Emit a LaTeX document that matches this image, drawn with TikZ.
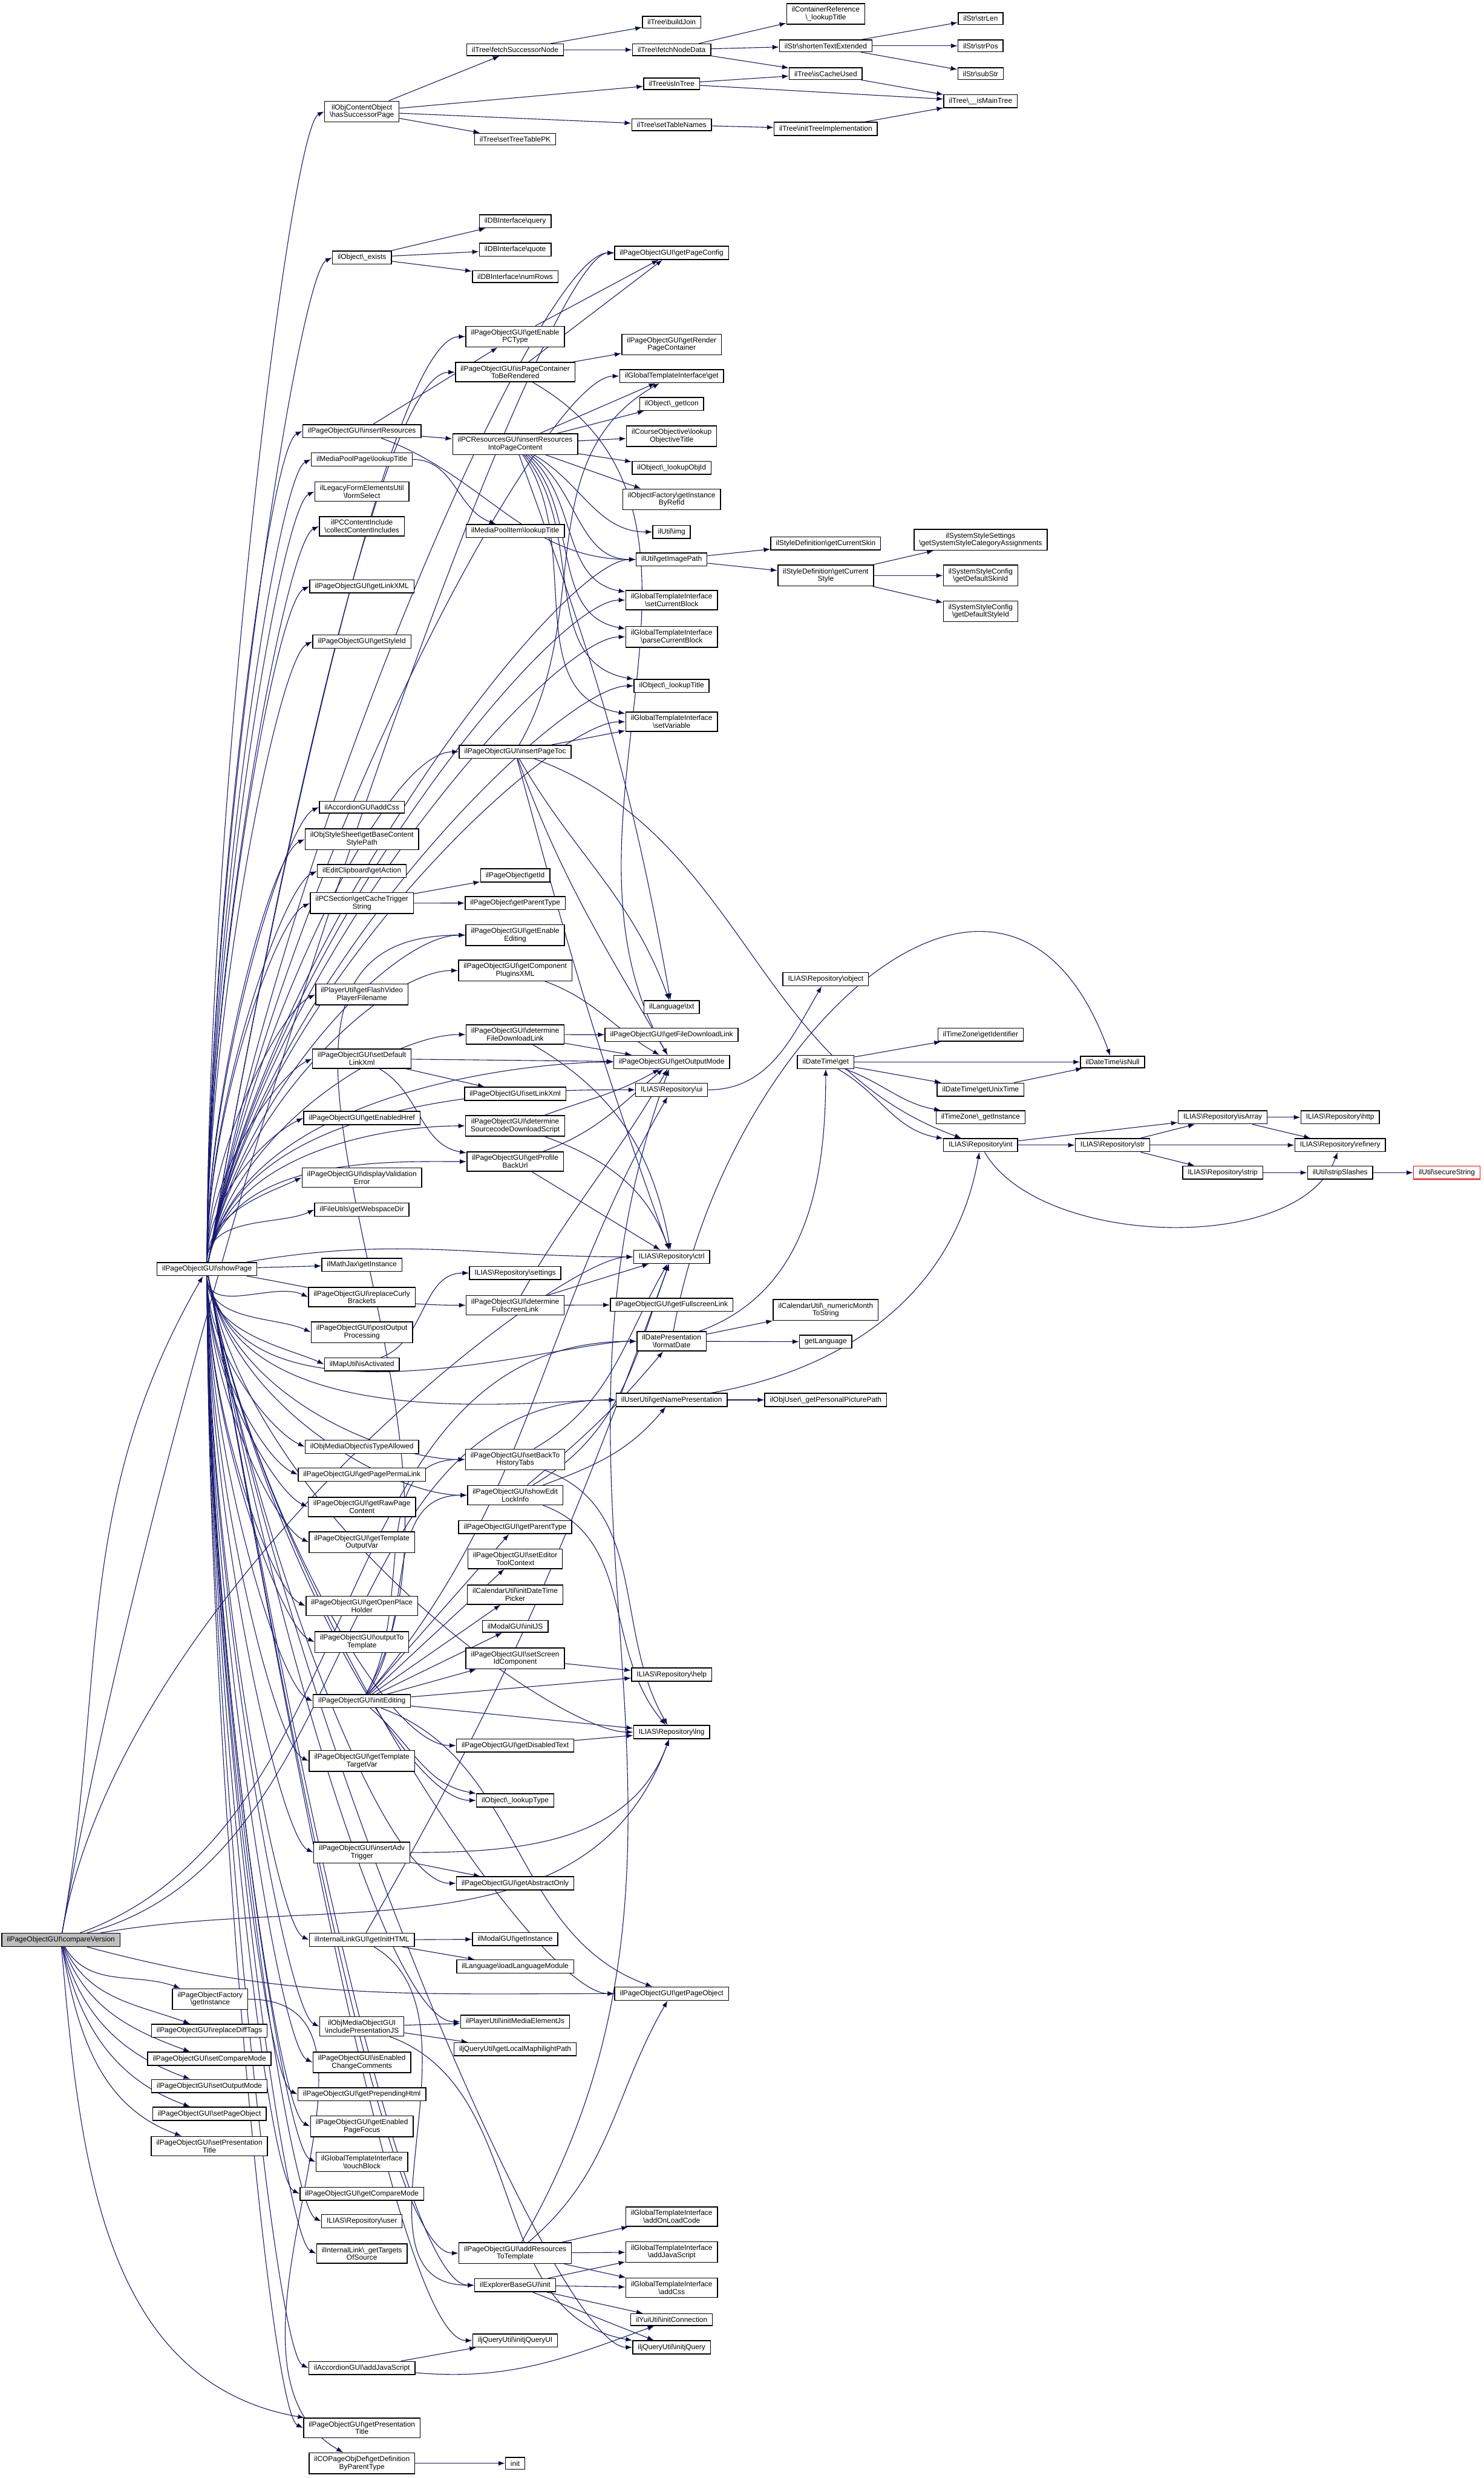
\documentclass[tikz,border=0pt]{standalone}
\usepackage{fontspec}
\setmainfont{Liberation Sans}
\usepackage{tikz}
\usetikzlibrary{arrows.meta}
\definecolor{callblue}{HTML}{191970}
\definecolor{curgray}{HTML}{BFBFBF}
\tikzstyle{every picture}=[->,>={Latex[length=1.5pt,width=1.1pt]}]
\pgfdeclarelayer{back}
\pgfsetlayers{back,main}
\newcommand{\bsl}{\textbackslash}

\begin{document}
\begin{tikzpicture}[x=0.0125cm,y=-0.0125cm,
  calls/.style={draw=callblue, line width=0.15pt},
  fu/.style={out=90,in=205,in distance=0.3cm},
  fd/.style={out=-90,in=155,in distance=0.3cm},
  lu/.style={out=80,in=180,in distance=0.6cm},
  ld/.style={out=-80,in=180,in distance=0.6cm}]
\useasboundingbox (0,0) rectangle (939,1568);
{
\begin{scope}[every node/.style={rectangle,draw,fill=white,line width=0.2pt,align=center,
    inner xsep=1.15pt,inner ysep=0.72pt,font=\fontsize{1.625}{1.725}\selectfont}]

    % caller and its direct callees
    \node[fill=curgray](cv) at (38.5,1227.5) {ilPageObjectGUI\bsl compareVersion};
    \node(sp) at (131,803) {ilPageObjectGUI\bsl showPage};
    \node(pof) at (133,1265) {ilPageObjectFactory\\\bsl getInstance};
    \node(rdt) at (132.5,1285) {ilPageObjectGUI\bsl replaceDiffTags};
    \node(scm) at (132.5,1302.7) {ilPageObjectGUI\bsl setCompareMode};
    \node(som) at (132.5,1320) {ilPageObjectGUI\bsl setOutputMode};
    \node(spo) at (132.5,1337.5) {ilPageObjectGUI\bsl setPageObject};
    \node(spt) at (132.5,1358) {ilPageObjectGUI\bsl setPresentation\\Title};

    % third column
    \node(hsp) at (229,70.6) {ilObjContentObject\\\bsl hasSuccessorPage};
    \node(oex) at (229,163) {ilObject\bsl\_exists};
    \node(ires) at (229,272.8) {ilPageObjectGUI\bsl insertResources};
    \node(mpp) at (229,290.7) {ilMediaPoolPage\bsl lookupTitle};
    \node(fsel) at (229,311) {ilLegacyFormElementsUtil\\\bsl formSelect};
    \node(cci) at (229,333) {ilPCContentInclude\\\bsl collectContentIncludes};
    \node(glx) at (229,371) {ilPageObjectGUI\bsl getLinkXML};
    \node(gsi) at (229,406) {ilPageObjectGUI\bsl getStyleId};
    \node(acss) at (229,510.7) {ilAccordionGUI\bsl addCss};
    \node(bcsp) at (229,531) {ilObjStyleSheet\bsl getBaseContent\\StylePath};
    \node(gact) at (229,551.2) {ilEditClipboard\bsl getAction};
    \node(cts) at (229,571.5) {ilPCSection\bsl getCacheTrigger\\String};
    \node(fvp) at (229,629.3) {ilPlayerUtil\bsl getFlashVideo\\PlayerFilename};
    \node(sdl) at (229,669.9) {ilPageObjectGUI\bsl setDefault\\LinkXml};
    \node(geh) at (229,707.4) {ilPageObjectGUI\bsl getEnabledHref};
    \node(dve) at (229,745.1) {ilPageObjectGUI\bsl displayValidation\\Error};
    \node(gwd) at (229,765.4) {ilFileUtils\bsl getWebspaceDir};
    \node(mjx) at (229,800.3) {ilMathJax\bsl getInstance};
    \node(rcb) at (229,820.8) {ilPageObjectGUI\bsl replaceCurly\\Brackets};
    \node(pop) at (229,843) {ilPageObjectGUI\bsl postOutput\\Processing};
    \node(mia) at (229,863.3) {ilMapUtil\bsl isActivated};
    \node(ita) at (229,915.5) {ilObjMediaObject\bsl isTypeAllowed};
    \node(gppl) at (229,933.1) {ilPageObjectGUI\bsl getPagePermaLink};
    \node(grpc) at (229,953.5) {ilPageObjectGUI\bsl getRawPage\\Content};
    \node(gtov) at (229,975.9) {ilPageObjectGUI\bsl getTemplate\\OutputVar};
    \node(goph) at (229,1016.2) {ilPageObjectGUI\bsl getOpenPlace\\Holder};
    \node(otot) at (229,1039) {ilPageObjectGUI\bsl outputTo\\Template};
    \node(ied) at (229,1076.4) {ilPageObjectGUI\bsl initEditing};
    \node(gttv) at (229,1114.3) {ilPageObjectGUI\bsl getTemplate\\TargetVar};
    \node(iat) at (229,1172.2) {ilPageObjectGUI\bsl insertAdv\\Trigger};
    \node(gih) at (229,1227.5) {ilInternalLinkGUI\bsl getInitHTML};
    \node(ipjs) at (229,1282.3) {ilObjMediaObjectGUI\\\bsl includePresentationJS};
    \node(iecc) at (229,1305) {ilPageObjectGUI\bsl isEnabled\\ChangeComments};
    \node(gph) at (229,1325.2) {ilPageObjectGUI\bsl getPrependingHtml};
    \node(gepf) at (229,1345.5) {ilPageObjectGUI\bsl getEnabled\\PageFocus};
    \node(ttb) at (229,1368) {ilGlobalTemplateInterface\\\bsl touchBlock};
    \node(gcm) at (229,1388.1) {ilPageObjectGUI\bsl getCompareMode};
    \node(rus) at (229,1405.5) {ILIAS\bsl Repository\bsl user};
    \node(gtos) at (229,1426) {ilInternalLink\bsl\_getTargets\\OfSource};
    \node(ajs) at (229,1498.4) {ilAccordionGUI\bsl addJavaScript};
    \node(gpt) at (229,1536.3) {ilPageObjectGUI\bsl getPresentation\\Title};
    \node(gdpt) at (229,1558.7) {ilCOPageObjDef\bsl getDefinition\\ByParentType};

    % fourth column
    \node(fsn) at (326,31.5) {ilTree\bsl fetchSuccessorNode};
    \node(sttp) at (326,88) {ilTree\bsl setTreeTablePK};
    \node(dbq) at (326,140) {ilDBInterface\bsl query};
    \node(dbqt) at (326,158) {ilDBInterface\bsl quote};
    \node(dbnr) at (326,175) {ilDBInterface\bsl numRows};
    \node(gepc) at (326,213) {ilPageObjectGUI\bsl getEnable\\PCType};
    \node(ipc) at (326,235.5) {ilPageObjectGUI\bsl isPageContainer\\ToBeRendered};
    \node(irpc) at (326,281) {ilPCResourcesGUI\bsl insertResources\\IntoPageContent};
    \node(mpi) at (326,336) {ilMediaPoolItem\bsl lookupTitle};
    \node(iptoc) at (326,475.7) {ilPageObjectGUI\bsl insertPageToc};
    \node(pgid) at (326,553.9) {ilPageObject\bsl getId};
    \node(ppt) at (326,571.4) {ilPageObject\bsl getParentType};
    \node(gee) at (326,591.7) {ilPageObjectGUI\bsl getEnable\\Editing};
    \node(gcpx) at (326,614.1) {ilPageObjectGUI\bsl getComponent\\PluginsXML};
    \node(dfdl) at (326,654.6) {ilPageObjectGUI\bsl determine\\FileDownloadLink};
    \node(slx) at (326,692.1) {ilPageObjectGUI\bsl setLinkXml};
    \node(dsds) at (326,712.4) {ilPageObjectGUI\bsl determine\\SourcecodeDownloadScript};
    \node(gpbu) at (326,735) {ilPageObjectGUI\bsl getProfile\\BackUrl};
    \node(rset) at (326,805.5) {ILIAS\bsl Repository\bsl settings};
    \node(dfsl) at (326,825.9) {ilPageObjectGUI\bsl determine\\FullscreenLink};
    \node(sbth) at (326,923.5) {ilPageObjectGUI\bsl setBackTo\\HistoryTabs};
    \node(seli) at (326,946.1) {ilPageObjectGUI\bsl showEdit\\LockInfo};
    \node(gpty) at (326,966.3) {ilPageObjectGUI\bsl getParentType};
    \node(setc) at (326,986.4) {ilPageObjectGUI\bsl setEditor\\ToolContext};
    \node(idtp) at (326,1009) {ilCalendarUtil\bsl initDateTime\\Picker};
    \node(mijs) at (326,1029.1) {ilModalGUI\bsl initJS};
    \node(ssic) at (326,1049.4) {ilPageObjectGUI\bsl setScreen\\IdComponent};
    \node(gdt) at (326,1104.5) {ilPageObjectGUI\bsl getDisabledText};
    \node(olt) at (326,1139.2) {ilObject\bsl\_lookupType};
    \node(gao) at (326,1191.7) {ilPageObjectGUI\bsl getAbstractOnly};
    \node(mgi) at (326,1227) {ilModalGUI\bsl getInstance};
    \node(llm) at (326,1244.3) {ilLanguage\bsl loadLanguageModule};
    \node(imej) at (326,1279.3) {ilPlayerUtil\bsl initMediaElementJs};
    \node(glmp) at (326,1296.7) {iljQueryUtil\bsl getLocalMaphilightPath};
    \node(artt) at (326,1425.7) {ilPageObjectGUI\bsl addResources\\ToTemplate};
    \node(ebi) at (326,1446) {ilExplorerBaseGUI\bsl init};
    \node(ijqui) at (326,1481) {iljQueryUtil\bsl initjQueryUI};
    \node(cinit) at (326,1558.7) {init};

    % fifth column
    \node(bj) at (425,14) {ilTree\bsl buildJoin};
    \node(fnd) at (425,31.5) {ilTree\bsl fetchNodeData};
    \node(iit) at (425,53) {ilTree\bsl isInTree};
    \node(stn) at (425,79) {ilTree\bsl setTableNames};
    \node(gpc) at (425,160) {ilPageObjectGUI\bsl getPageConfig};
    \node(grpcn) at (425,218) {ilPageObjectGUI\bsl getRender\\PageContainer};
    \node(gget) at (425,238) {ilGlobalTemplateInterface\bsl get};
    \node(gico) at (425,255.6) {ilObject\bsl\_getIcon};
    \node(lot) at (425,276) {ilCourseObjective\bsl lookup\\ObjectiveTitle};
    \node(loi) at (425,296) {ilObject\bsl\_lookupObjId};
    \node(gibr) at (425,316) {ilObjectFactory\bsl getInstance\\ByRefId};
    \node(uimg) at (425,336.6) {ilUtil\bsl img};
    \node(gip) at (425,354) {ilUtil\bsl getImagePath};
    \node(scb) at (425,379.7) {ilGlobalTemplateInterface\\\bsl setCurrentBlock};
    \node(pcb) at (425,403) {ilGlobalTemplateInterface\\\bsl parseCurrentBlock};
    \node(ltit) at (425,434) {ilObject\bsl\_lookupTitle};
    \node(svar) at (425,456.7) {ilGlobalTemplateInterface\\\bsl setVariable};
    \node(ltxt) at (425,637.3) {ilLanguage\bsl txt};
    \node(gfdl) at (425,654.8) {ilPageObjectGUI\bsl getFileDownloadLink};
    \node(gom) at (425,672) {ilPageObjectGUI\bsl getOutputMode};
    \node(rui) at (425,689.6) {ILIAS\bsl Repository\bsl ui};
    \node(rctrl) at (425,795.3) {ILIAS\bsl Repository\bsl ctrl};
    \node(gfsl) at (425,825.6) {ilPageObjectGUI\bsl getFullscreenLink};
    \node(fdate) at (425,848.7) {ilDatePresentation\\\bsl formatDate};
    \node(gnp) at (425,885.8) {ilUserUtil\bsl getNamePresentation};
    \node(rhelp) at (425,1059.6) {ILIAS\bsl Repository\bsl help};
    \node(rlng) at (425,1096) {ILIAS\bsl Repository\bsl lng};
    \node(gpo) at (425,1261.5) {ilPageObjectGUI\bsl getPageObject};
    \node(aolc) at (425,1402.6) {ilGlobalTemplateInterface\\\bsl addOnLoadCode};
    \node(gajs) at (425,1425) {ilGlobalTemplateInterface\\\bsl addJavaScript};
    \node(gacss) at (425,1447.6) {ilGlobalTemplateInterface\\\bsl addCss};
    \node(yic) at (425,1467.8) {ilYuiUtil\bsl initConnection};
    \node(ijq) at (425,1485.3) {iljQueryUtil\bsl initjQuery};

    % sixth column
    \node(crl) at (522.5,8.8) {ilContainerReference\\\bsl\_lookupTitle};
    \node(ste) at (522.5,29) {ilStr\bsl shortenTextExtended};
    \node(icu) at (522.5,46.6) {ilTree\bsl isCacheUsed};
    \node(iti) at (522.5,81.5) {ilTree\bsl initTreeImplementation};
    \node(gcs) at (522.5,343.8) {ilStyleDefinition\bsl getCurrentSkin};
    \node(gcst) at (522.5,364.2) {ilStyleDefinition\bsl getCurrent\\Style};
    \node(robj) at (522.5,619.6) {ILIAS\bsl Repository\bsl object};
    \node(dtg) at (522.5,672) {ilDateTime\bsl get};
    \node(nms) at (522.5,828.9) {ilCalendarUtil\bsl\_numericMonth\\ToString};
    \node(glang) at (522.5,849) {getLanguage};
    \node(gppp) at (522.5,885.8) {ilObjUser\bsl\_getPersonalPicturePath};

    % seventh column and beyond
    \node(slen) at (620.5,11.7) {ilStr\bsl strLen};
    \node(spos) at (620.5,29) {ilStr\bsl strPos};
    \node(ssub) at (620.5,46.6) {ilStr\bsl subStr};
    \node(imt) at (620.5,64) {ilTree\bsl\_\_isMainTree};
    \node(sssc) at (620.5,341.6) {ilSystemStyleSettings\\\bsl getSystemStyleCategoryAssignments};
    \node(dsk) at (620.5,364.2) {ilSystemStyleConfig\\\bsl getDefaultSkinId};
    \node(dsty) at (620.5,386.8) {ilSystemStyleConfig\\\bsl getDefaultStyleId};
    \node(tzid) at (620.5,654.7) {ilTimeZone\bsl getIdentifier};
    \node(gut) at (620.5,689.5) {ilDateTime\bsl getUnixTime};
    \node(tzgi) at (620.5,707) {ilTimeZone\bsl\_getInstance};
    \node(rint) at (620.5,724.6) {ILIAS\bsl Repository\bsl int};
    \node(isn) at (704,672) {ilDateTime\bsl isNull};
    \node(rstr) at (704,724.6) {ILIAS\bsl Repository\bsl str};
    \node(risa) at (773.7,707) {ILIAS\bsl Repository\bsl isArray};
    \node(rstp) at (773.7,742) {ILIAS\bsl Repository\bsl strip};
    \node(rhttp) at (848,707) {ILIAS\bsl Repository\bsl http};
    \node(rref) at (848,724.6) {ILIAS\bsl Repository\bsl refinery};
    \node(ssl) at (848,742) {ilUtil\bsl stripSlashes};
    \node[draw=red](sstr) at (915.5,742) {ilUtil\bsl secureString};
\end{scope}

\begin{pgfonlayer}{back}
% compareVersion
\path[calls] (cv) edge[out=80,in=-120] (sp) edge[out=-60,in=160] (pof)
  edge[out=-65,in=160] (rdt) edge[out=-70,in=160] (scm) edge[out=-75,in=160] (som)
  edge[out=-78,in=160] (spo) edge[out=-80,in=160] (spt) edge[out=-85,in=170] (gpt)
  edge[lu] (gpc) edge[out=10,in=-110] (rlng) edge[out=-15,in=180] (gpo)
  edge[lu] (rctrl) edge[out=20,in=180] (fdate) edge[out=15,in=180] (gnp);
\path[calls] (pof) edge[out=0,in=150] (gdpt);

% showPage, near callees
\path[calls] (sp) edge[fu] (hsp.west) edge[fu] (oex.west) edge[fu] (ires.west)
  edge[fu] (mpp.west) edge[fu] (fsel.west) edge[fu] (cci.west) edge[fu] (glx.west)
  edge[fu] (gsi.west) edge[fu] (acss.west) edge[fu] (bcsp.west) edge[fu] (gact.west)
  edge[fu] (cts.west) edge[fu] (fvp.west) edge[fu] (sdl.west) edge[fu] (geh.west)
  edge[fu] (dve.west) edge[fu] (gwd.west) edge (mjx);
\path[calls] (sp) edge[fd] (rcb.west) edge[fd] (pop.west) edge[fd] (mia.west)
  edge[fd] (ita.west) edge[fd] (gppl.west) edge[fd] (grpc.west) edge[fd] (gtov.west)
  edge[fd] (goph.west) edge[fd] (otot.west) edge[fd] (ied.west) edge[fd] (gttv.west)
  edge[fd] (iat.west) edge[fd] (gih.west) edge[fd] (ipjs.west) edge[fd] (iecc.west)
  edge[fd] (gph.west) edge[fd] (gepf.west) edge[fd] (ttb.west) edge[fd] (gcm.west)
  edge[fd] (rus.west) edge[fd] (gtos.west) edge[fd] (ajs.west) edge[fd] (gpt.west);

% showPage, far callees
\path[calls] (sp) edge[lu] (gpc) edge[lu] (gepc) edge[lu] (ipc) edge[lu] (gget)
  edge[lu] (gip) edge[lu] (scb) edge[lu] (pcb) edge[lu] (ltit) edge[lu] (svar)
  edge[lu] (iptoc) edge[lu] (gee) edge[lu] (gcpx) edge[lu] (dfdl) edge[lu] (dsds)
  edge[lu] (gpbu) edge[lu] (gom) edge[lu] (rui) edge[out=10,in=180] (rctrl)
  edge[out=-10,in=180] (dfsl) edge[ld] (fdate) edge[ld] (gnp) edge[ld] (sbth)
  edge[ld] (seli) edge[ld] (gdt) edge[ld] (olt) edge[ld] (gao) edge[ld] (gpo)
  edge[ld] (imej) edge[ld] (artt) edge[ld] (ebi) edge[ld] (ijqui) edge[ld] (ijq)
  edge[ld] (rlng);

% tree
\path[calls] (hsp) edge (fsn) edge (iit) edge (stn) edge (sttp);
\path[calls] (fsn) edge (bj) edge (fnd);
\path[calls] (fnd) edge (crl) edge (ste) edge (icu);
\path[calls] (ste) edge (slen) edge (spos) edge (ssub);
\path[calls] (iit) edge (icu) edge (imt);
\path[calls] (icu) edge (imt);
\path[calls] (stn) edge (iti);
\path[calls] (iti) edge (imt);
\path[calls] (oex) edge (dbq) edge (dbqt) edge (dbnr);

% resources
\path[calls] (ires) edge (gepc) edge (irpc) edge[out=-20,in=180] (gip);
\path[calls] (mpp) edge[out=0,in=160] (mpi);
\path[calls] (irpc) edge (gget) edge (gico) edge (lot) edge (loi) edge (gibr)
  edge[out=-30,in=180] (uimg) edge[out=-35,in=180] (gip) edge[out=-40,in=170] (scb)
  edge[out=-45,in=170] (pcb) edge[out=-50,in=170] (ltit) edge[out=-55,in=170] (svar)
  edge[out=-70,in=100] (ltxt);
\path[calls] (gepc) edge (gpc);
\path[calls] (ipc) edge (gpc) edge (grpcn) edge[out=-30,in=120] (gom);
\path[calls] (gip) edge (gcs) edge (gcst);
\path[calls] (gcst) edge (sssc) edge (dsk) edge (dsty);
\path[calls] (iptoc) edge (svar) edge[out=60,in=-150] (gget) edge[out=-60,in=110] (ltxt)
  edge[out=-70,in=120] (gom) edge[out=-75,in=110] (rctrl) edge[out=-20,in=160] (rint);

% links and modes
\path[calls] (cts) edge (pgid) edge (ppt);
\path[calls] (sdl) edge (gom) edge (slx) edge[out=-30,in=170] (gpbu);
\path[calls] (dfdl) edge (gfdl) edge (gom) edge[out=-30,in=100] (rctrl);
\path[calls] (gcpx) edge[out=-20,in=150] (gom);
\path[calls] (dsds) edge[out=20,in=-150] (gom) edge[out=-20,in=110] (rctrl);
\path[calls] (gpbu) edge[out=20,in=-140] (gom) edge (rctrl);
\path[calls] (mia) edge[out=20,in=180] (rset);
\path[calls] (dfsl) edge (gfsl) edge (rctrl) edge[out=60,in=-120] (gom);
\path[calls] (rui) edge[out=0,in=-120] (robj);

% dates and repository
\path[calls] (fdate) edge[out=20,in=-90] (dtg) edge (nms) edge (glang)
  edge[out=80,in=110,looseness=1.5] (isn);
\path[calls] (dtg) edge (tzid) edge (isn) edge (gut) edge[out=-20,in=170] (tzgi)
  edge[out=-30,in=170] (rint);
\path[calls] (gut) edge (isn);
\path[calls] (rint) edge (risa) edge (rstr) edge[out=-60,in=-110,looseness=0.8] (rref);
\path[calls] (rstr) edge (risa) edge (rref) edge (rstp);
\path[calls] (risa) edge (rhttp) edge (rref);
\path[calls] (rstp) edge (ssl);
\path[calls] (ssl) edge (sstr);
\path[calls] (gnp) edge (gppp) edge[out=10,in=-100] (rint);

% editing
\path[calls] (sbth) edge[out=30,in=-120] (rctrl) edge[out=-20,in=120] (rlng);
\path[calls] (seli) edge[out=40,in=-130] (fdate) edge[out=20,in=-130] (gnp)
  edge[out=-20,in=130] (rlng) edge[out=30,in=-110] (rctrl);
\path[calls] (ied) edge[out=60,in=180] (gee) edge (gpty) edge (setc) edge (idtp)
  edge (mijs) edge (ssic) edge (rhelp) edge (rlng) edge[out=-40,in=170] (olt)
  edge[out=-20,in=160] (gpo) edge[out=60,in=180] (sbth) edge[out=55,in=180] (seli)
  edge[out=50,in=-120] (rui);
\path[calls] (ssic) edge (rhelp);
\path[calls] (gdt) edge (rlng);
\path[calls] (iat) edge (gao) edge[out=0,in=-110] (rlng);

% javascript
\path[calls] (gih) edge (mgi) edge (llm) edge[out=-30,in=180] (ebi)
  edge[out=60,in=-110] (rctrl);
\path[calls] (ipjs) edge (imej) edge (glmp) edge[out=-20,in=170] (ijq);
\path[calls] (artt) edge[out=40,in=-120] (gpo) edge (aolc) edge (gajs) edge (gacss)
  edge[out=60,in=-110] (gom);
\path[calls] (ebi) edge (gajs) edge (gacss) edge (yic) edge (ijq);
\path[calls] (ajs) edge (ijqui) edge[out=-5,in=-160] (yic);
\path[calls] (gdpt) edge (cinit);
\end{pgfonlayer}
}
\end{tikzpicture}
\end{document}
